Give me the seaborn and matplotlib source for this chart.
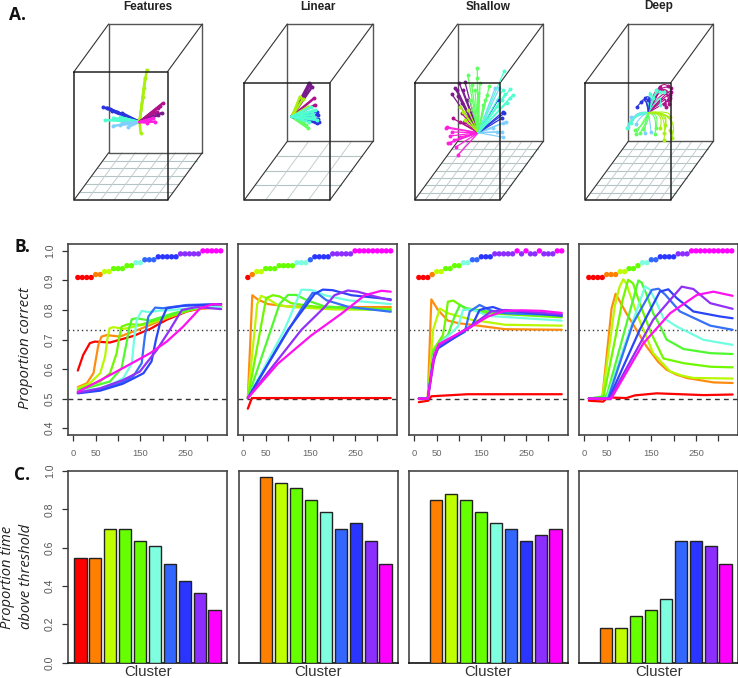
import matplotlib
matplotlib.use("Agg")
import matplotlib.pyplot as plt
from matplotlib.patches import PathPatch
from matplotlib.path import Path
import numpy as np
import pandas as pd
import seaborn as sns

W, H = 738, 678

# Data
panel_names = ["Features", "Linear", "Shallow", "Deep"]
cluster_colors = ["#FF0000", "#FF8000", "#BFFF00", "#66FF00", "#66FF00",
                  "#7FFFDF", "#3366FF", "#2A35FF", "#8C2EFF", "#FF00FF"]
line_colors = ["#FF0000", "#FF8C10", "#B8F800", "#70F800", "#50F830",
               "#70FFE0", "#3570F8", "#2A45F8", "#9030F8", "#FF10F0"]
cluster_ids = ["c1", "c2", "c3", "c4", "c5", "c6", "c7", "c8", "c9", "c10"]
dot_levels = [0.91, 0.92, 0.93, 0.94, 0.95, 0.96, 0.97, 0.98, 0.99, 1.0]
epochs = [10, 20, 30, 40, 50, 60, 70, 80, 90, 100, 110, 120, 130, 140, 150, 160, 170,
          180, 190, 200, 210, 220, 230, 240, 250, 260, 270, 280, 290, 300, 310, 320, 330]

features_dots = [.91]*4 + [.92]*2 + [.93]*2 + [.94]*3 + [.95]*2 + [.96]*2 + [.97]*3 + [.98]*5 + [.99]*5 + [1.0]*5
linear_dots = [.91] + [.92] + [.93]*2 + [.94]*3 + [.95]*4 + [.96]*3 + [.97] + [.98]*4 + [.99]*5 + [1.0]*9
shallow_dots = [.91]*3 + [.92] + [.93]*2 + [.94]*2 + [.95]*2 + [.96]*2 + [.97]*2 + [.98]*3 + [.99]*5 + [1.0, .99, 1.0, .99, .99, 1.0, .99, .99, .99, 1.0, 1.0]
deep_dots = [.91]*4 + [.92]*3 + [.93]*2 + [.94]*2 + [.95] + [.96]*2 + [.97]*2 + [.98]*4 + [.99]*3 + [1.0]*10

# x, y of each accuracy curve, red cluster first
features_lines = [
    ([10, 22, 37, 48, 82, 134, 172, 209, 254, 298, 331], [.595, .648, .688, .693, .69, .712, .736, .767, .795, .81, .812]),
    ([10, 30, 45, 50, 56, 63, 75, 104, 150, 209, 261, 331], [.539, .552, .586, .63, .682, .71, .715, .71, .736, .772, .8, .81]),
    ([10, 37, 60, 71, 76, 81, 90, 112, 172, 224, 284, 331], [.535, .552, .586, .642, .70, .738, .742, .736, .755, .783, .81, .814]),
    ([10, 60, 82, 97, 103, 108, 123, 150, 209, 284, 331], [.53, .558, .586, .654, .71, .744, .752, .75, .776, .81, .812]),
    ([10, 40, 82, 108, 119, 125, 131, 142, 172, 224, 284, 331], [.527, .54, .558, .603, .688, .74, .769, .772, .764, .789, .81, .812]),
    ([10, 60, 90, 112, 131, 136, 142, 153, 168, 194, 224, 284, 331], [.524, .535, .552, .57, .62, .70, .767, .797, .793, .798, .8, .81, .81]),
    ([10, 60, 104, 134, 153, 160, 168, 183, 201, 254, 331], [.52, .53, .552, .575, .62, .71, .778, .808, .806, .817, .82]),
    ([10, 60, 110, 134, 157, 175, 185, 194, 209, 246, 331], [.518, .527, .55, .568, .586, .626, .70, .755, .806, .814, .82]),
    ([10, 60, 110, 149, 187, 216, 243, 276, 331], [.52, .535, .562, .592, .665, .733, .8, .81, .803]),
    ([10, 60, 119, 172, 209, 246, 284, 313, 331], [.523, .562, .61, .654, .693, .744, .806, .82, .818]),
]
linear_lines = [
    ([10, 19, 330], [.466, .502, .502]),
    ([10, 20, 32, 55, 100, 204, 330], [.502, .85, .836, .82, .812, .81, .81]),
    ([10, 31, 40, 55, 77, 107, 204, 330], [.502, .82, .848, .838, .817, .81, .802, .80]),
    ([10, 51, 66, 81, 107, 166, 330], [.502, .84, .85, .846, .823, .81, .803]),
    ([10, 81, 100, 118, 144, 182, 330], [.502, .82, .851, .851, .832, .812, .798]),
    ([10, 92, 130, 155, 182, 234, 330], [.502, .733, .869, .867, .85, .833, .82]),
    ([10, 92, 130, 155, 167, 186, 234, 330], [.502, .71, .804, .858, .855, .833, .811, .794]),
    ([10, 100, 160, 178, 200, 242, 330], [.502, .733, .855, .869, .867, .85, .836]),
    ([10, 130, 182, 204, 234, 256, 294, 330], [.502, .733, .81, .85, .866, .862, .846, .833]),
    ([10, 77, 152, 219, 272, 309, 330], [.502, .618, .714, .787, .85, .865, .862]),
]
shallow_lines = [
    ([10, 31, 38, 120, 330], [.488, .493, .508, .515, .515]),
    ([10, 30, 38, 53, 75, 100, 128, 203, 330], [.5, .5, .836, .8, .764, .755, .75, .735, .733]),
    ([10, 30, 42, 57, 75, 128, 203, 330], [.5, .5, .733, .805, .789, .767, .75, .747]),
    ([10, 30, 42, 64, 70, 75, 87, 113, 165, 330], [.5, .5, .664, .715, .77, .828, .832, .806, .789, .775]),
    ([10, 30, 42, 55, 75, 90, 102, 116, 165, 330], [.5, .5, .652, .69, .715, .778, .817, .806, .795, .78]),
    ([10, 30, 42, 55, 83, 98, 109, 128, 165, 330], [.5, .5, .64, .685, .722, .745, .8, .802, .78, .764]),
    ([10, 30, 42, 53, 113, 124, 146, 172, 203, 330], [.5, .5, .63, .675, .726, .795, .817, .798, .789, .783]),
    ([10, 30, 42, 53, 128, 146, 161, 176, 195, 330], [.5, .5, .625, .67, .744, .8, .806, .81, .8, .78]),
    ([10, 30, 45, 55, 131, 172, 203, 330], [.5, .5, .64, .68, .75, .795, .8, .785]),
    ([10, 30, 44, 55, 128, 165, 203, 240, 285, 330], [.5, .5, .647, .685, .744, .778, .797, .799, .797, .79]),
]
deep_lines = [
    ([10, 42, 53, 94, 113, 162, 267, 332], [.493, .49, .504, .502, .511, .518, .512, .514]),
    ([10, 40, 61, 70, 94, 139, 165, 184, 205, 229, 289, 332], [.5, .5, .806, .855, .789, .677, .625, .598, .582, .57, .555, .553]),
    ([10, 40, 68, 78, 87, 94, 105, 117, 154, 192, 218, 244, 332], [.5, .5, .812, .875, .904, .89, .84, .789, .654, .592, .578, .57, .568]),
    ([10, 42, 70, 85, 98, 109, 120, 132, 150, 177, 222, 282, 332], [.5, .5, .71, .83, .902, .89, .84, .79, .72, .636, .62, .608, .606]),
    ([10, 50, 121, 128, 140, 154, 170, 184, 222, 282, 332], [.5, .51, .9, .893, .85, .789, .745, .7, .668, .654, .651]),
    ([10, 50, 90, 136, 147, 160, 177, 207, 267, 332], [.5, .5, .68, .88, .868, .83, .773, .744, .699, .682]),
    ([10, 53, 109, 151, 166, 181, 214, 282, 332], [.5, .5, .755, .868, .872, .852, .795, .747, .733]),
    ([10, 55, 124, 169, 188, 207, 244, 304, 332], [.5, .5, .733, .862, .87, .84, .795, .778, .772]),
    ([10, 57, 154, 192, 218, 244, 282, 332], [.5, .5, .767, .834, .879, .871, .823, .804]),
    ([10, 60, 132, 192, 252, 289, 332], [.5, .5, .687, .789, .851, .862, .848]),
]

features_bars = [.545, .545, .697, .697, .636, .606, .515, .424, .364, .273]
linear_bars = [0, .97, .939, .909, .848, .788, .697, .727, .636, .515]
shallow_bars = [0, .848, .879, .848, .788, .727, .697, .636, .667, .697]
deep_bars = [0, .182, .182, .242, .273, .333, .636, .636, .606, .515]

chance_level = 0.5
threshold_level = 0.733
x_ticks = [0, 50, 100, 150, 200, 250, 300]
x_tick_labels = ["0", "50", "", "150", "", "250", ""]

# 3D box outlines in panel A: front left/right/top, back left/right/top, shared bottoms
box_front = [(74, 167.5, 71.7), (244.3, 330, 82.7), (414.7, 500.3, 82.7), (585.3, 670.7, 82.7)]
box_back = [(108.7, 202.3, 152.7), (287.3, 373, 141.3), (457.7, 543.3, 141.3), (628.3, 713.3, 141.3)]
box_grid = [(7, 6), (4, 4), (8, 8), (8, 8)]

dark_purple = "#7A1A8C"
dark_magenta = "#B0128C"
magenta = "#FF20E0"
blue = "#2A35E0"
aqua = "#50FFD0"
sky = "#80D0FF"
lime = "#A8F010"
green = "#60FF60"

# rays of panel A: colour, end points (x, y in the picture's box)
features_origin = (139.5, 122)
features_rays = [
    (blue, [103, 107, 110, 117, 122, 112], [107, 107.5, 109, 112, 113, 111]),
    (aqua, [105, 113, 120, 126], [120, 118, 117, 119]),
    (sky, [113, 120, 128, 122], [126, 125, 127, 123]),
    (lime, [146.7, 145, 143, 144, 140.7], [70, 78, 97, 88, 133]),
    (dark_magenta, [162.7, 156.7, 160, 158], [103.3, 112, 106, 108]),
    (dark_purple, [161.7, 158], [113, 115]),
    (magenta, [155, 150, 147, 153], [121.7, 120, 122.5, 118]),
]
linear_origin = (291.7, 116.7)
linear_rays = [
    (dark_purple, [309, 311.7, 310], [83.3, 87.3, 85]),
    (dark_magenta, [314, 315], [98.3, 105]),
    (lime, [300, 308.3, 303], [96.7, 106.7, 99]),
    (green, [308.3, 303.3, 306], [128.3, 123.3, 125]),
    (magenta, [315], [121.7]),
    (blue, [318.3, 319.3, 316.7, 318, 317], [115, 121.7, 111.7, 119, 123]),
    (aqua, [315, 316.7, 313.3, 311, 309, 314, 312], [110, 120, 115, 107, 122, 118, 112]),
]
shallow_origin = (478.3, 132.7)
shallow_rays = [
    (magenta, [446, 450, 448, 450, 458, 447, 454, 456, 452, 460], [128, 136, 143, 143, 155, 127, 140, 147, 132, 137]),
    (dark_magenta, [452.7, 461.7, 460, 464, 466.7], [118.3, 113.3, 121.7, 121.7, 116.7]),
    (dark_purple, [451.7, 457.3, 459.3, 465, 455, 461.7, 466.7, 463, 458], [94, 90, 83.3, 82.3, 88.3, 103.3, 100, 90, 96]),
    (lime, [460, 465, 463, 468], [106.7, 120, 112, 110]),
    (green, [467.7, 477.3, 477.3, 471.7, 478.3, 483.3, 489.3, 485, 475, 480, 487, 470],
     [75, 68.3, 78.3, 85, 93.3, 105, 86, 100, 90, 83, 95, 100]),
    (sky, [495, 499.3, 503.3, 501.7, 506, 493, 502.7, 497], [88.3, 88.3, 137.3, 131.7, 121.7, 128, 123.3, 132]),
    (blue, [503.3, 504.3, 501.7, 498], [111.7, 113.3, 118.3, 100]),
    (aqua, [504.3, 510, 512.7, 510, 501.7, 506.7, 505, 498, 503], [70.7, 89.3, 95, 98.3, 100, 103, 94, 106, 90]),
]
# deep rays bend, so each has a control point: colour, control x, y, end x, y
deep_origin = (648.3, 112.7)
deep_rays = [
    (dark_magenta, [655, 658, 662, 668, 676, 672, 665, 660, 672, 668, 658, 678],
     [80, 78, 78, 80, 85, 86, 82, 80, 92, 88, 82, 95],
     [665, 668, 670, 669, 668, 671, 660, 670, 664, 666, 671, 669],
     [92, 86, 95, 104, 100, 92, 87, 98, 104, 107, 88, 100]),
    (aqua, [650, 656, 660, 654, 664, 650], [84, 84, 84, 88, 88, 90], [650, 660, 656, 664, 660, 653], [94, 92, 90, 92, 105, 98]),
    (blue, [648, 652, 646, 652], [92, 92, 94, 92], [637, 645, 641, 648], [107, 98, 102, 100]),
    (sky, [636, 640, 632, 645, 638, 640, 650], [112, 116, 118, 122, 110, 112, 120],
     [628, 636, 631, 645, 632, 630, 651], [127, 124, 117, 133, 119, 122, 132]),
    (aqua, [637, 630], [110, 116], [631, 627], [123, 128]),
    (green, [645, 650, 658, 648, 660, 645], [118, 120, 114, 120, 112, 125],
     [636, 643, 655, 640, 656, 635], [134, 129, 134, 133, 128, 130]),
    (lime, [668, 672, 676, 672, 680, 670, 678, 665], [108, 110, 112, 112, 112, 110, 112, 112],
     [664, 670, 671, 664, 672, 665, 670, 660], [140, 117, 132, 133, 138, 125, 130, 128]),
]


def pixel_axes(x0, y0, x1, y1):
    return fig.add_axes([x0 / W, 1 - y1 / H, (x1 - x0) / W, (y1 - y0) / H])


sns.set_theme(style="white")
plt.rcParams["font.family"] = ["Liberation Sans", "DejaVu Sans"]

fig = plt.figure(figsize=(W / 100, H / 100), dpi=100)

# Panel A, a full-width box in picture coordinates
ax_a = pixel_axes(0, 0, W, 215)
ax_a.set_xlim(0, W)
ax_a.set_ylim(215, 0)
ax_a.axis("off")

for front, back, grid in zip(box_front, box_back, box_grid):
    fl, fr, ft = front
    bl, br, bb = back
    top = 24
    bottom = 200
    # floor grid
    for t in np.linspace(0, 1, grid[1] + 1)[1:-1]:
        ax_a.plot([fl + (bl - fl) * t, fr + (br - fr) * t], [bottom + (bb - bottom) * t] * 2,
                  color="#B4C4C4", lw=0.8, zorder=1)
    for t in np.linspace(0, 1, grid[0] + 1)[1:-1]:
        ax_a.plot([fl + (fr - fl) * t, bl + (br - bl) * t], [bottom, bb], color="#C4CECE", lw=0.7, zorder=1)
    # back faces
    ax_a.plot([bl, br, br, bl, bl], [top, top, bb, bb, top], color="#555555", lw=1.0, zorder=2)
    for x_f, x_b, y_f, y_b in [(fl, bl, ft, top), (fr, br, ft, top), (fl, bl, bottom, bb), (fr, br, bottom, bb)]:
        ax_a.plot([x_f, x_b], [y_f, y_b], color="#333333", lw=0.8, zorder=2)
    # front face
    ax_a.plot([fl, fr, fr, fl, fl], [ft, ft, bottom, bottom, ft], color="#222222", lw=1.1, zorder=5)

for origin, rays in [(features_origin, features_rays), (linear_origin, linear_rays), (shallow_origin, shallow_rays)]:
    heavy = rays is not shallow_rays
    for color, xs, ys in rays:
        for x, y in zip(xs, ys):
            ax_a.plot([origin[0], x], [origin[1], y], color=color, lw=1.8 if heavy else 0.9, zorder=4)
        sns.scatterplot(x=xs, y=ys, color=color, s=8, linewidth=0, ax=ax_a, zorder=4)

for color, ctrl_x, ctrl_y, end_x, end_y in deep_rays:
    for cx, cy, ex, ey in zip(ctrl_x, ctrl_y, end_x, end_y):
        curve = Path([deep_origin, (cx, cy), (ex, ey)], [Path.MOVETO, Path.CURVE3, Path.CURVE3])
        ax_a.add_patch(PathPatch(curve, fill=False, edgecolor=color, lw=0.8, zorder=4))
    sns.scatterplot(x=end_x, y=end_y, color=color, s=8, linewidth=0, ax=ax_a, zorder=4)

title_x = [147.7, 318, 488, 658.7]
for name, x in zip(panel_names, title_x):
    fig.text(x / W, 1 - 9.5 / H, name, ha="center", va="baseline", fontsize=8.5, fontweight="bold", color="#222222")

# Panel B
b_left = [68, 238, 409, 579]
b_lines = [features_lines, linear_lines, shallow_lines, deep_lines]
b_dots = [features_dots, linear_dots, shallow_dots, deep_dots]

for i, (left, lines, dots) in enumerate(zip(b_left, b_lines, b_dots)):
    ax = pixel_axes(left, 243.5, left + 159, 435)
    for (xs, ys), color in zip(lines, line_colors):
        sns.lineplot(x=xs, y=ys, color=color, linewidth=1.6, estimator=None, sort=False, ax=ax, zorder=3)
    df_dots = pd.DataFrame({"epoch": epochs, "value": dots})
    df_dots["cluster"] = [cluster_ids[dot_levels.index(v)] for v in dots]
    sns.scatterplot(data=df_dots, x="epoch", y="value", hue="cluster", hue_order=cluster_ids,
                    palette=cluster_colors, s=15, linewidth=0, legend=False, ax=ax, zorder=3)
    ax.axhline(threshold_level, color="#333333", lw=1, ls=(0, (1, 2.2)), zorder=2)
    ax.axhline(chance_level, color="#333333", lw=1, ls=(0, (3.5, 3)), zorder=2)
    ax.set_xlim(-12, 344)
    ax.set_ylim(0.377, 1.025)
    ax.set_xlabel("")
    ax.set_ylabel("")
    ax.set_xticks(x_ticks)
    ax.set_xticklabels(x_tick_labels)
    ax.tick_params(axis="x", length=4.3, width=0.9, color="#333333", labelsize=6.8, labelcolor="#666666",
                   pad=5.5, bottom=True)
    if i == 0:
        ax.set_yticks([.4, .5, .6, .7, .8, .9, 1.0])
        ax.set_yticklabels(["0.4", "0.5", "0.6", "0.7", "0.8", "0.9", "1.0"], rotation=90, va="center")
        ax.tick_params(axis="y", length=4.3, width=0.9, color="#333333", labelsize=7.5, labelcolor="#555555",
                       pad=5, left=True)
    else:
        ax.set_yticks([])
    for s in ax.spines.values():
        s.set_color("#444444")
        s.set_linewidth(1.2)

# Panel C
c_bars = [features_bars, linear_bars, shallow_bars, deep_bars]
c_left = [68, 239, 409, 579]

for i, (left, bars) in enumerate(zip(c_left, c_bars)):
    ax = pixel_axes(left, 471, left + 159, 662.5)
    df_bars = pd.DataFrame({"cluster": cluster_ids, "share": bars})
    sns.barplot(data=df_bars, x="cluster", y="share", hue="cluster", hue_order=cluster_ids,
                palette=cluster_colors, saturation=1, width=0.84, edgecolor="#222222", linewidth=1.0,
                legend=False, ax=ax, zorder=3)
    ax.set_xlim(-0.82, 9.82)
    ax.set_ylim(0, 1)
    ax.set_xlabel("")
    ax.set_ylabel("")
    ax.set_xticks([])
    if i == 0:
        ax.set_yticks([0, .2, .4, .6, .8, 1.0])
        ax.set_yticklabels(["0.0", "0.2", "0.4", "0.6", "0.8", "1.0"], rotation=90, va="center")
        ax.tick_params(axis="y", length=4.3, width=0.9, color="#333333", labelsize=7.5, labelcolor="#555555",
                       pad=5, left=True)
    else:
        ax.set_yticks([])
    for s in ax.spines.values():
        s.set_color("#444444")
        s.set_linewidth(1.2)
    ax.spines["bottom"].set_color("#111111")
    fig.text(title_x[i] / W, 1 - 672.5 / H, "Cluster", ha="center", va="center", fontsize=10.8, color="#333333")

# Row letters and y labels
for letter, x, y in [("A.", 9, 15), ("B.", 14, 247), ("C.", 14, 475)]:
    fig.text(x / W, 1 - y / H, letter, ha="left", va="center", fontsize=12.5, fontweight="bold",
             family=["Open Sans", "DejaVu Sans"], color="#111111")

fig.text(26 / W, 1 - 348 / H, "Proportion correct", rotation=90, ha="center", va="center", fontsize=10.8,
         style="italic", family=["Open Sans", "DejaVu Sans"], color="#222222")
fig.text(8 / W, 1 - 577 / H, "Proportion time", rotation=90, ha="center", va="center", fontsize=10.6,
         style="italic", family=["Open Sans", "DejaVu Sans"], color="#222222")
fig.text(27 / W, 1 - 576 / H, "above threshold", rotation=90, ha="center", va="center", fontsize=10.6,
         style="italic", family=["Open Sans", "DejaVu Sans"], color="#222222")

plt.savefig("out.png", dpi=100)
plt.close()
